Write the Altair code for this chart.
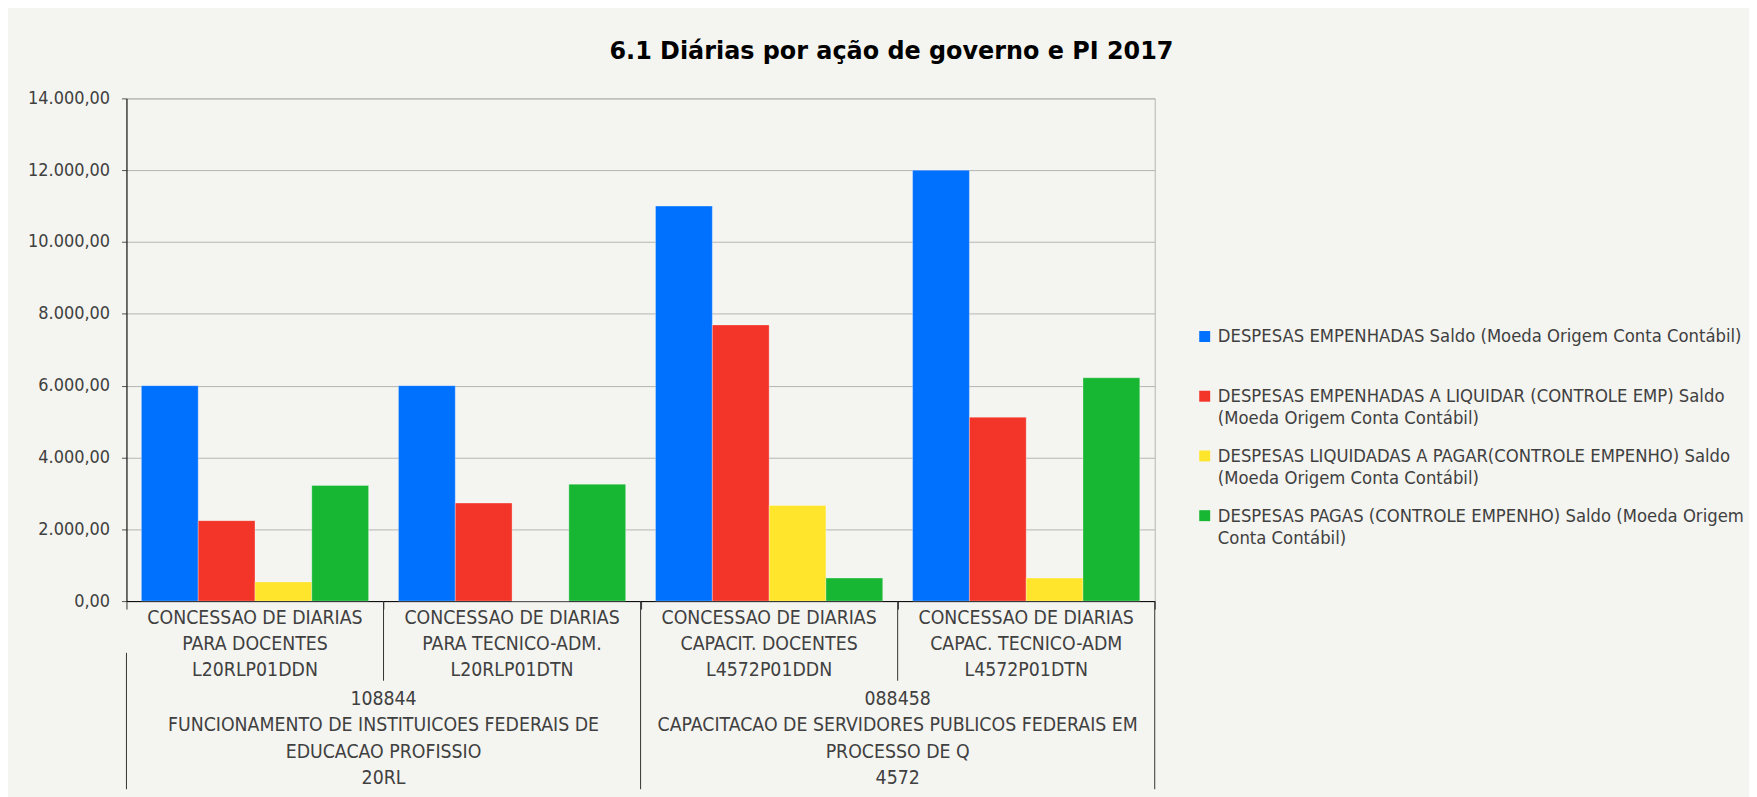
import altair as alt
import pandas as pd

# ---------------- data ----------------
cat_codes = ["L20RLP01DDN", "L20RLP01DTN", "L4572P01DDN", "L4572P01DTN"]
cat_line1 = ["CONCESSAO DE DIARIAS"] * 4
cat_line2 = ["PARA DOCENTES", "PARA TECNICO-ADM.", "CAPACIT. DOCENTES", "CAPAC. TECNICO-ADM"]

group_codes = ["108844", "088458"]
group_names = [
    "FUNCIONAMENTO DE INSTITUICOES FEDERAIS DE\nEDUCACAO PROFISSIO",
    "CAPACITACAO DE SERVIDORES PUBLICOS FEDERAIS EM\nPROCESSO DE Q",
]
group_actions = ["20RL", "4572"]
group_first_cat = ["L20RLP01DDN", "L4572P01DDN"]
group_mid_cat = ["L20RLP01DTN", "L4572P01DTN"]

series_names = [
    "DESPESAS EMPENHADAS Saldo (Moeda Origem Conta Contábil)",
    "DESPESAS EMPENHADAS A LIQUIDAR (CONTROLE EMP) Saldo\n(Moeda Origem Conta Contábil)",
    "DESPESAS LIQUIDADAS A PAGAR(CONTROLE EMPENHO) Saldo\n(Moeda Origem Conta Contábil)",
    "DESPESAS PAGAS (CONTROLE EMPENHO) Saldo (Moeda Origem\nConta Contábil)",
]
series_colors = ["#0070ff", "#f33429", "#ffe52c", "#18b733"]

empenhadas = [6000, 6000, 11000, 12000]
a_liquidar = [2240, 2730, 7690, 5120]
liquidadas_a_pagar = [535, 0, 2665, 640]
pagas = [3220, 3255, 640, 6220]

y_ticks = [0, 2000, 4000, 6000, 8000, 10000, 12000, 14000]

# ---------------- tables ----------------
rows = []
for s, vals in zip(series_names, [empenhadas, a_liquidar, liquidadas_a_pagar, pagas]):
    for c, v in zip(cat_codes, vals):
        rows.append({"cat": c, "series": s, "value": v})
df = pd.DataFrame(rows)

cat_df = pd.DataFrame({
    "cat": cat_codes,
    "label": [a + "\n" + b + "\n" + c for a, b, c in zip(cat_line1, cat_line2, cat_codes)],
})
grp_df = pd.DataFrame({
    "cat": group_mid_cat,
    "label": [a + "\n" + b + "\n" + c for a, b, c in zip(group_codes, group_names, group_actions)],
})

FONT = "DejaVu Sans Condensed, DejaVu Sans, sans-serif"
TXT = "#404040"
W, H = 1033, 505

xscale = alt.Scale(domain=cat_codes, paddingInner=0, paddingOuter=0)

bars = alt.Chart(df).mark_bar(stroke="#ffffff", strokeOpacity=0.3, strokeWidth=1).encode(
    x=alt.X("cat:N", scale=xscale, title=None,
            axis=alt.Axis(labels=False, ticks=True, tickBand="extent", tickSize=8,
                          tickColor="#333333", domainColor="#000000", grid=False, title=None)),
    xOffset=alt.XOffset("series:N",
                        scale=alt.Scale(domain=series_names, paddingInner=0, paddingOuter=0.263)),
    y=alt.Y("value:Q", title=None,
            scale=alt.Scale(domain=[0, 14000], nice=False),
            axis=alt.Axis(values=y_ticks, format=",.2f", labelFont=FONT, labelFontSize=18,
                          labelColor=TXT, labelPadding=12, tickSize=5, tickColor="#555555",
                          domainColor="#000000", gridColor="#b4b4b4", gridWidth=1, title=None)),
    color=alt.Color("series:N",
                    scale=alt.Scale(domain=series_names, range=series_colors),
                    legend=alt.Legend(orient="none", legendX=1074, legendY=230, title=None,
                                      direction="vertical", columns=1, gridAlign="all",
                                      symbolType="square", symbolSize=121, symbolStrokeWidth=0,
                                      labelFont=FONT, labelFontSize=18.4, labelColor=TXT,
                                      labelExpr="split(datum.label, '\\n')", labelLimit=0,
                                      labelOffset=4, rowPadding=19, padding=0)),
)

cat_text = alt.Chart(cat_df).mark_text(
    lineBreak="\n", baseline="middle", align="center", lineHeight=26,
    font=FONT, fontSize=19.4, color=TXT,
).encode(x=alt.X("cat:N", title=None), y=alt.value(522), text="label:N")

grp_text = alt.Chart(grp_df).mark_text(
    lineBreak="\n", baseline="middle", align="center", lineHeight=26.7,
    font=FONT, fontSize=19.4, color=TXT,
).encode(x=alt.X("cat:N", bandPosition=0, title=None), y=alt.value(603), text="label:N")

inner_rules = alt.Chart(pd.DataFrame({"cat": group_mid_cat})).mark_rule(color="#333333").encode(
    x=alt.X("cat:N", bandPosition=0, title=None), y=alt.value(H), y2=alt.value(H + 80))

left_rule = alt.Chart(pd.DataFrame({"cat": group_first_cat[:1]})).mark_rule(color="#333333").encode(
    x=alt.X("cat:N", bandPosition=0, title=None), y=alt.value(H + 52), y2=alt.value(H + 189))

mid_rule = alt.Chart(pd.DataFrame({"cat": group_first_cat[1:]})).mark_rule(color="#333333").encode(
    x=alt.X("cat:N", bandPosition=0, title=None), y=alt.value(H), y2=alt.value(H + 189))

right_rule = alt.Chart(pd.DataFrame({"cat": group_mid_cat[1:]})).mark_rule(color="#333333").encode(
    x=alt.X("cat:N", bandPosition=1, title=None), y=alt.value(H), y2=alt.value(H + 189))

chart = alt.layer(bars, cat_text, grp_text, inner_rules, left_rule, mid_rule, right_rule).properties(
    width=W, height=H,
    title=alt.TitleParams("6.1 Diárias por ação de governo e PI 2017", font="DejaVu Sans",
                          fontSize=24, fontWeight="bold", color="#000000", anchor="middle",
                          dx=252, offset=26),
    autosize=alt.AutoSizeParams(type="none"),
    padding={"left": 119, "top": 89, "right": 597, "bottom": 195},
).configure(
    background="#f4f4f0",
    locale={"number": {"decimal": ",", "thousands": ".", "grouping": [3], "currency": ["R$", ""]}},
    style={"guide-label": {"lineHeight": 22}},
).configure_view(stroke="#b4b4b4")

chart.save("out.html", embed_options={"renderer": "svg", "actions": False})
